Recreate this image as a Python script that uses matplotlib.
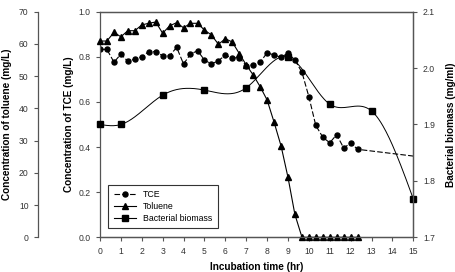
import numpy as np
import matplotlib
matplotlib.use("Agg")
import matplotlib.pyplot as plt

plt.rcParams['font.family'] = ['Liberation Sans', 'DejaVu Sans']

# data
tce_time = [0, 0.33, 0.67, 1.0, 1.33, 1.67, 2.0, 2.33, 2.67, 3.0, 3.33, 3.67, 4.0,
            4.33, 4.67, 5.0, 5.33, 5.67, 6.0, 6.33, 6.67, 7.0, 7.33, 7.67, 8.0,
            8.33, 8.67, 9.0, 9.33, 9.67, 10.0, 10.33, 10.67, 11.0, 11.33, 11.67,
            12.0, 12.33, 15.0]
tce_conc = [0.833, 0.833, 0.776, 0.812, 0.780, 0.790, 0.800, 0.823, 0.823, 0.805,
            0.804, 0.842, 0.768, 0.812, 0.827, 0.786, 0.768, 0.783, 0.807, 0.795,
            0.796, 0.761, 0.764, 0.776, 0.818, 0.808, 0.798, 0.816, 0.786, 0.731,
            0.623, 0.496, 0.443, 0.419, 0.455, 0.395, 0.419, 0.390, 0.360]

tol_time = [0, 0.33, 0.67, 1.0, 1.33, 1.67, 2.0, 2.33, 2.67, 3.0, 3.33, 3.67, 4.0,
            4.33, 4.67, 5.0, 5.33, 5.67, 6.0, 6.33, 6.67, 7.0, 7.33, 7.67, 8.0,
            8.33, 8.67, 9.0, 9.33, 9.67, 10.0, 10.33, 10.67, 11.0, 11.33, 11.67,
            12.0, 12.33]
tol_conc = [60.9, 60.9, 63.6, 62.2, 64.1, 64.1, 65.9, 66.4, 66.8, 63.3, 65.6, 66.6,
            65.0, 66.4, 66.4, 64.3, 62.8, 59.9, 61.6, 60.6, 57.0, 53.5, 50.4, 46.7,
            42.6, 35.8, 28.3, 18.6, 7.1, 0, 0, 0, 0, 0, 0, 0, 0, 0]

bio_time = [0, 1, 3, 5, 7, 9, 11, 13, 15]
bio_mass = [1.900, 1.900, 1.952, 1.961, 1.965, 2.020, 1.936, 1.924, 1.768]


def natural_spline(x, y, xs):
    x = np.asarray(x, float)
    y = np.asarray(y, float)
    n = len(x)
    h = np.diff(x)
    A = np.zeros((n, n))
    b = np.zeros(n)
    A[0, 0] = A[-1, -1] = 1
    for i in range(1, n - 1):
        A[i, i - 1] = h[i - 1]
        A[i, i] = 2 * (h[i - 1] + h[i])
        A[i, i + 1] = h[i]
        b[i] = 6 * ((y[i + 1] - y[i]) / h[i] - (y[i] - y[i - 1]) / h[i - 1])
    M = np.linalg.solve(A, b)
    idx = np.clip(np.searchsorted(x, xs) - 1, 0, n - 2)
    x0, x1 = x[idx], x[idx + 1]
    hh = x1 - x0
    t0, t1 = x1 - xs, xs - x0
    return (M[idx] * t0 ** 3 / (6 * hh) + M[idx + 1] * t1 ** 3 / (6 * hh)
            + (y[idx] / hh - M[idx] * hh / 6) * t0
            + (y[idx + 1] / hh - M[idx + 1] * hh / 6) * t1)


spine_c = '#555555'
lab_fs = 7.2
fig = plt.figure(figsize=(4.56, 2.72), dpi=100)
ax = fig.add_axes([0.2193, 0.1276, 0.6871, 0.8294])
ax_tol = ax.twinx()
ax_bio = ax.twinx()

# TCE (dashed, last segment without marker)
ax.plot(tce_time, tce_conc, color='black', lw=0.8, ls=(0, (5, 2)),
        marker='o', ms=3.6, markevery=list(range(len(tce_time) - 1)),
        label='TCE')
ax.set_xlim(0, 15)
ax.set_ylim(0, 1)
ax.set_xticks(range(0, 16))
ax.set_yticks(np.arange(0, 1.01, 0.2))
ax.set_yticklabels([f'{v:.1f}' for v in np.arange(0, 1.01, 0.2)])
ax.set_xlabel('Incubation time (hr)', fontsize=lab_fs, fontweight='bold', labelpad=4)
ax.set_ylabel('Concentration of TCE (mg/L)', fontsize=lab_fs, fontweight='bold', labelpad=3)

# toluene on outer left axis
ax_tol.plot(tol_time, tol_conc, color='black', lw=0.8, marker='^', ms=4,
            label='Toluene', clip_on=False)
ax_tol.set_ylim(0, 70)
ax_tol.set_yticks(range(0, 71, 10))
ax_tol.spines['left'].set_position(('outward', 44.4))
ax_tol.spines['left'].set_visible(True)
ax_tol.spines['right'].set_visible(False)
ax_tol.spines['top'].set_visible(False)
ax_tol.spines['bottom'].set_visible(False)
ax_tol.yaxis.set_ticks_position('left')
ax_tol.yaxis.set_label_position('left')
ax_tol.set_ylabel('Concentration of toluene (mg/L)', fontsize=lab_fs, fontweight='bold', labelpad=5)

# biomass, smoothed line through the points
xs = np.linspace(0, 15, 300)
ax_bio.plot(xs, natural_spline(bio_time, bio_mass, xs), color='black', lw=0.7)
ax_bio.plot(bio_time, bio_mass, ls='none', marker='s', ms=4, color='black',
            clip_on=False)
ax_bio.set_ylim(1.7, 2.1)
ax_bio.set_yticks([1.7, 1.8, 1.9, 2.0, 2.1])
ax_bio.set_yticklabels(['1.7', '1.8', '1.9', '2.0', '2.1'])
ax_bio.set_ylabel('Bacterial biomass (mg/ml)', fontsize=lab_fs, fontweight='bold', labelpad=8)
ax_bio.spines['left'].set_visible(False)

for a in (ax, ax_tol, ax_bio):
    for s in a.spines.values():
        s.set_color(spine_c)
        s.set_linewidth(0.9)
    a.tick_params(axis='both', labelsize=6.2, colors='#333333', length=3,
                  width=0.8, direction='out', pad=4)
    a.tick_params(color=spine_c)

# legend
h_tce = plt.Line2D([], [], color='black', lw=0.8, ls=(0, (5, 2)), marker='o', ms=3.6)
h_tol = plt.Line2D([], [], color='black', lw=0.8, marker='^', ms=4)
h_bio = plt.Line2D([], [], color='black', lw=0.8, marker='s', ms=4)
leg = ax_bio.legend([h_tce, h_tol, h_bio], ['TCE', 'Toluene', 'Bacterial biomass'],
                    loc='lower left', bbox_to_anchor=(0.0265, 0.04), borderaxespad=0,
                    fontsize=6.3, fancybox=False, framealpha=1, handlelength=2.6,
                    labelspacing=0.35, borderpad=0.6)
leg.get_frame().set_edgecolor('#333333')
leg.get_frame().set_linewidth(0.8)

fig.savefig('out.png', dpi=100)
